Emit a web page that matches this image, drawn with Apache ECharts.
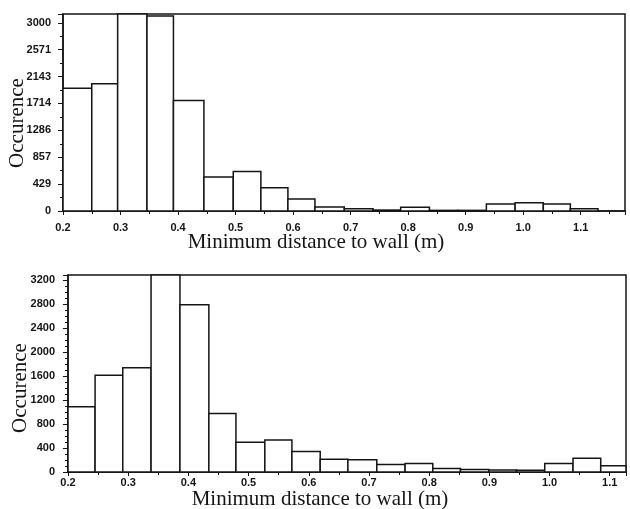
<!DOCTYPE html>
<html>
<head>
<meta charset="utf-8">
<script src="https://cdn.jsdelivr.net/npm/echarts@6/dist/echarts.min.js"></script>
<style>
  html, body { margin: 0; padding: 0; background: #fff; }
  #chart { width: 630px; height: 509px; }
</style>
</head>
<body>
<div id="chart"></div>
<script>
// top histogram: bin edges (m) and counts
const topEdges = [0.2, 0.25, 0.295, 0.346, 0.392, 0.445, 0.496, 0.544, 0.591, 0.638,
  0.689, 0.739, 0.787, 0.837, 0.887, 0.936, 0.986, 1.035, 1.082, 1.13];
const topCounts = [1958, 2030, 3400, 3110, 1760, 540, 630, 370, 190, 65,
  35, 15, 60, 10, 10, 110, 130, 110, 35];
const topYTicks = [0, 429, 857, 1286, 1714, 2143, 2571, 3000];

// bottom histogram
const bottomEdges = [0.2, 0.245, 0.291, 0.338, 0.386, 0.434, 0.479, 0.527, 0.572, 0.619,
  0.665, 0.713, 0.76, 0.806, 0.852, 0.899, 0.945, 0.992, 1.039, 1.085, 1.132];
const bottomCounts = [1090, 1614, 1737, 3500, 2789, 974, 496, 534, 340, 211,
  206, 125, 140, 60, 40, 35, 30, 140, 230, 105];
const bottomYTicks = [0, 400, 800, 1200, 1600, 2000, 2400, 2800, 3200];

const xTicks = [0.2, 0.3, 0.4, 0.5, 0.6, 0.7, 0.8, 0.9, 1.0, 1.1];

const xName = 'Minimum distance to wall (m)';
const yName = 'Occurence';

function bins(edges, counts) {
  return counts.map((c, i) => [edges[i], edges[i + 1], c]);
}

function renderBar(params, api) {
  const p0 = api.coord([api.value(0), api.value(2)]);
  const p1 = api.coord([api.value(1), 0]);
  const shape = echarts.graphic.clipRectByRect(
    { x: p0[0], y: p0[1], width: p1[0] - p0[0], height: p1[1] - p0[1] },
    { x: params.coordSys.x, y: params.coordSys.y, width: params.coordSys.width, height: params.coordSys.height }
  );
  if (!shape) return null;
  return {
    type: 'rect',
    shape: shape,
    style: { fill: '#fff', stroke: '#151515', lineWidth: 1.5 },
  };
}

const labelStyle = {
  color: '#151515',
  fontFamily: 'Liberation Sans',
  fontWeight: 'bold',
  fontSize: 11,
};

function xAxis(gridIndex, max, margin) {
  return {
    type: 'value',
    gridIndex: gridIndex,
    min: 0.2,
    max: max,
    interval: 0.1,
    axisLine: { lineStyle: { color: '#151515', width: 1.5 } },
    axisTick: { length: 4, lineStyle: { color: '#151515' } },
    minorTick: { show: true, splitNumber: 2, length: 3, lineStyle: { color: '#151515' } },
    splitLine: { show: false },
    axisLabel: Object.assign({
      margin: margin,
      showMaxLabel: false,
      formatter: v => (xTicks.some(t => Math.abs(t - v) < 1e-6) ? v.toFixed(1) : ''),
    }, labelStyle),
  };
}

function yAxis(gridIndex, max, interval, minorSplit, ticks, margin) {
  return {
    type: 'value',
    gridIndex: gridIndex,
    min: 0,
    max: max,
    interval: interval,
    axisLine: { show: true, lineStyle: { color: '#151515', width: 1.5 } },
    axisTick: { show: true, length: 5, lineStyle: { color: '#151515' } },
    minorTick: { show: true, splitNumber: minorSplit, length: 3, lineStyle: { color: '#151515' } },
    splitLine: { show: false },
    axisLabel: Object.assign({
      margin: margin,
      showMaxLabel: false,
      formatter: v => {
        const t = ticks.find(k => Math.abs(k - v) < 1);
        return t === undefined ? '' : String(t);
      },
    }, labelStyle),
  };
}

const nameStyle = { fill: '#151515', fontFamily: 'Liberation Serif', fontSize: 21 };

const chart = echarts.init(document.getElementById('chart'));
chart.setOption({
  backgroundColor: '#fff',
  animation: false,
  grid: [
    { left: 63, top: 14, width: 562, height: 197, show: true, borderColor: '#151515', borderWidth: 1.5 },
    { left: 68, top: 275, width: 558, height: 197, show: true, borderColor: '#151515', borderWidth: 1.5 },
  ],
  xAxis: [xAxis(0, 1.177, 11), xAxis(1, 1.127, 5)],
  yAxis: [
    yAxis(0, 3140, 3000 / 7, 2, topYTicks, 12),
    yAxis(1, 3285, 400, 4, bottomYTicks, 13),
  ],
  series: [
    {
      type: 'custom',
      xAxisIndex: 0,
      yAxisIndex: 0,
      renderItem: renderBar,
      encode: { x: [0, 1], y: 2 },
      data: bins(topEdges, topCounts),
    },
    {
      type: 'custom',
      xAxisIndex: 1,
      yAxisIndex: 1,
      renderItem: renderBar,
      encode: { x: [0, 1], y: 2 },
      data: bins(bottomEdges, bottomCounts),
    },
  ],
  graphic: [
    { type: 'text', x: 316, y: 242, style: Object.assign({ text: xName, align: 'center', verticalAlign: 'middle' }, nameStyle) },
    { type: 'text', x: 320, y: 499, style: Object.assign({ text: xName, align: 'center', verticalAlign: 'middle' }, nameStyle) },
    { type: 'text', x: 17, y: 123, rotation: Math.PI / 2, style: Object.assign({ text: yName, align: 'center', verticalAlign: 'middle' }, nameStyle) },
    { type: 'text', x: 20, y: 388, rotation: Math.PI / 2, style: Object.assign({ text: yName, align: 'center', verticalAlign: 'middle' }, nameStyle) },
  ],
});
</script>
</body>
</html>
